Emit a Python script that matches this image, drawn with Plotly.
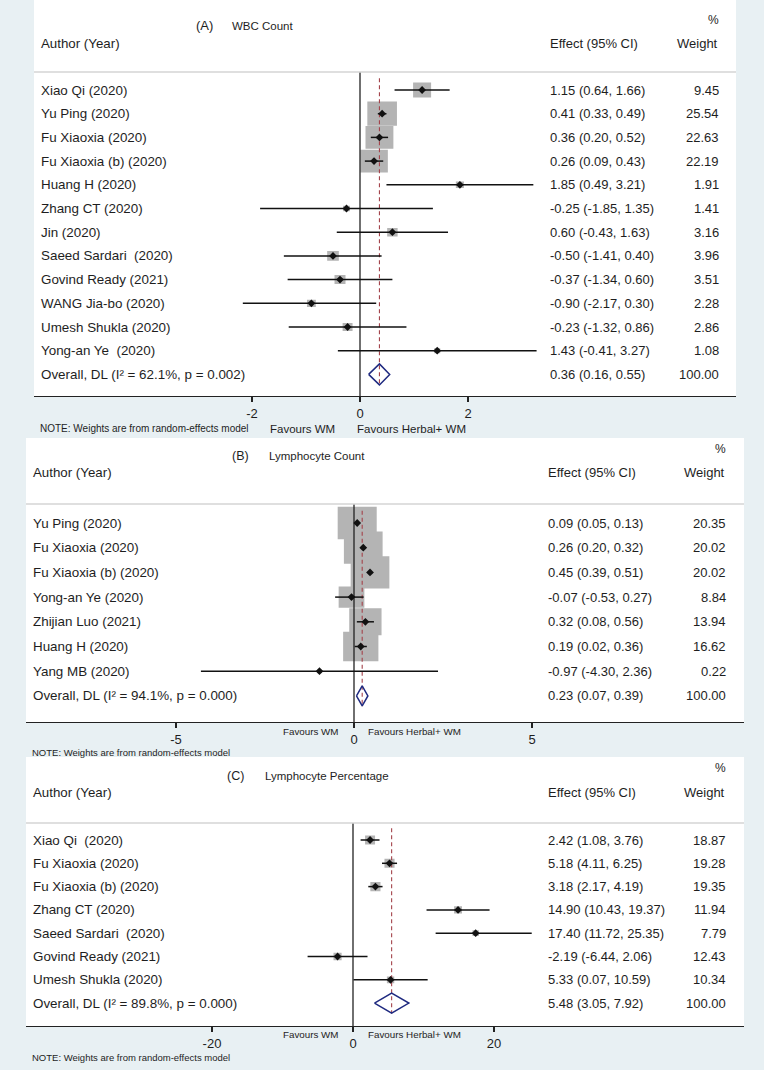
import math
import plotly.graph_objects as go

W, H = 764, 1070

# ---------------- data ----------------
# (A) WBC Count
a_authors = ["Xiao Qi (2020)", "Yu Ping (2020)", "Fu Xiaoxia (2020)", "Fu Xiaoxia (b) (2020)",
             "Huang H (2020)", "Zhang CT (2020)", "Jin (2020)", "Saeed Sardari  (2020)",
             "Govind Ready (2021)", "WANG Jia-bo (2020)", "Umesh Shukla (2020)", "Yong-an Ye  (2020)"]
a_effect = [1.15, 0.41, 0.36, 0.26, 1.85, -0.25, 0.60, -0.50, -0.37, -0.90, -0.23, 1.43]
a_lower = [0.64, 0.33, 0.20, 0.09, 0.49, -1.85, -0.43, -1.41, -1.34, -2.17, -1.32, -0.41]
a_upper = [1.66, 0.49, 0.52, 0.43, 3.21, 1.35, 1.63, 0.40, 0.60, 0.30, 0.86, 3.27]
a_weight = [9.45, 25.54, 22.63, 22.19, 1.91, 1.41, 3.16, 3.96, 3.51, 2.28, 2.86, 1.08]
a_overall = [0.36, 0.16, 0.55]
a_het = ["62.1%", "0.002"]
a_ticks = [-2, 0, 2]

# (B) Lymphocyte Count
b_authors = ["Yu Ping (2020)", "Fu Xiaoxia (2020)", "Fu Xiaoxia (b) (2020)", "Yong-an Ye (2020)",
             "Zhijian Luo (2021)", "Huang H (2020)", "Yang MB (2020)"]
b_effect = [0.09, 0.26, 0.45, -0.07, 0.32, 0.19, -0.97]
b_lower = [0.05, 0.20, 0.39, -0.53, 0.08, 0.02, -4.30]
b_upper = [0.13, 0.32, 0.51, 0.27, 0.56, 0.36, 2.36]
b_weight = [20.35, 20.02, 20.02, 8.84, 13.94, 16.62, 0.22]
b_overall = [0.23, 0.07, 0.39]
b_het = ["94.1%", "0.000"]
b_ticks = [-5, 0, 5]

# (C) Lymphocyte Percentage
c_authors = ["Xiao Qi  (2020)", "Fu Xiaoxia (2020)", "Fu Xiaoxia (b) (2020)", "Zhang CT (2020)",
             "Saeed Sardari  (2020)", "Govind Ready (2021)", "Umesh Shukla (2020)"]
c_effect = [2.42, 5.18, 3.18, 14.90, 17.40, -2.19, 5.33]
c_lower = [1.08, 4.11, 2.17, 10.43, 11.72, -6.44, 0.07]
c_upper = [3.76, 6.25, 4.19, 19.37, 25.35, 2.06, 10.59]
c_weight = [18.87, 19.28, 19.35, 11.94, 7.79, 12.43, 10.34]
c_overall = [5.48, 3.05, 7.92]
c_het = ["89.8%", "0.000"]
c_ticks = [-20, 0, 20]

titles = [("(A)", "WBC Count"), ("(B)", "Lymphocyte Count"), ("(C)", "Lymphocyte Percentage")]

# ---------------- layout geometry (pixels) ----------------
geoms = [
    dict(left=34, right=736, top=0, axis=396, zero=360, ppu=54.0, row0=90, rowpx=23.7, header=72,
         label_x=39, effect_x=548, weight_x=721, pct_y=20, head_y=43, title_y=26, tl_cx=204, tt_x=230,
         tl_size=13, tt_size=11.5, kw=5.86, kh=4.8, dh=10.5, fav_y=429, wm_r=337, hb_l=355, fav_size=11.5,
         note_x=38, note_y=429, note_size=10),
    dict(left=26, right=744, top=438, axis=722, zero=354, ppu=35.6, row0=523, rowpx=24.7, header=504,
         label_x=31, effect_x=546, weight_x=728, pct_y=449, head_y=473, title_y=456, tl_cx=240, tt_x=267,
         tl_size=12.5, tt_size=11.5, kw=8.65, kh=7.2, dh=10, fav_y=731, wm_r=341, hb_l=366, fav_size=9.8,
         note_x=30, note_y=752, note_size=9.5),
    dict(left=26, right=744, top=757, axis=1026, zero=353, ppu=7.05, row0=840, rowpx=23.3, header=823,
         label_x=31, effect_x=546, weight_x=728, pct_y=768, head_y=792, title_y=776, tl_cx=235, tt_x=263,
         tl_size=12.5, tt_size=11.5, kw=2.3, kh=2.07, dh=10, fav_y=1034, wm_r=341, hb_l=366, fav_size=9.8,
         note_x=30, note_y=1057, note_size=9.5),
]

FONT = "Liberation Sans, Arial, sans-serif"
TXT = "#1e1e1e"
BOX = "#b4b4b4"
NAVY = "#1f2a80"
RED = "#a4434b"
BG = "#e8f0f3"


def px(x):
    return x / W


def py(y):
    return 1 - y / H


fig = go.Figure()
annotations = []
shapes = []
layout_axes = {}

panels = [
    (a_authors, a_effect, a_lower, a_upper, a_weight, a_overall, a_het, a_ticks),
    (b_authors, b_effect, b_lower, b_upper, b_weight, b_overall, b_het, b_ticks),
    (c_authors, c_effect, c_lower, c_upper, c_weight, c_overall, c_het, c_ticks),
]

for k, (authors, eff, lo, hi, wt, ov, het, ticks) in enumerate(panels):
    g = geoms[k]
    sfx = "" if k == 0 else str(k + 1)
    xa, ya = "x" + sfx, "y" + sfx
    n = len(authors)
    xr = [(g["left"] - g["zero"]) / g["ppu"], (g["right"] - g["zero"]) / g["ppu"]]
    yr = [(g["axis"] - g["row0"]) / g["rowpx"], (g["top"] - g["row0"]) / g["rowpx"]]
    header_row = (g["header"] - g["row0"]) / g["rowpx"]

    layout_axes["xaxis" + sfx] = dict(
        domain=[px(g["left"]), px(g["right"])], range=xr, anchor=ya,
        showgrid=False, zeroline=False, showline=True, linecolor="#222", linewidth=1.3,
        ticks="outside", ticklen=5, tickwidth=1.2, tickcolor="#222",
        tickvals=ticks, ticktext=[str(t) for t in ticks],
        tickfont=dict(family=FONT, size=13, color=TXT), fixedrange=True)
    layout_axes["yaxis" + sfx] = dict(
        domain=[py(g["axis"]), py(g["top"])], range=yr, anchor=xa, visible=False, fixedrange=True)

    # weight boxes
    bx, by = [], []
    for i in range(n):
        hw = g["kw"] * math.sqrt(wt[i]) / 2 / g["ppu"]
        hh = g["kh"] * math.sqrt(wt[i]) / 2 / g["rowpx"]
        bx += [eff[i] - hw, eff[i] + hw, eff[i] + hw, eff[i] - hw, eff[i] - hw, None]
        by += [i - hh, i - hh, i + hh, i + hh, i - hh, None]
    fig.add_trace(go.Scatter(x=bx, y=by, xaxis=xa, yaxis=ya, mode="lines", fill="toself",
                             fillcolor=BOX, line=dict(width=0, color=BOX), hoverinfo="skip"))

    # zero line
    fig.add_trace(go.Scatter(x=[0, 0], y=[header_row, yr[0]], xaxis=xa, yaxis=ya, mode="lines",
                             line=dict(color="#222", width=1.3), hoverinfo="skip"))

    # overall dashed line
    fig.add_trace(go.Scatter(x=[ov[0], ov[0]], y=[-0.5, n + 0.45], xaxis=xa, yaxis=ya, mode="lines",
                             line=dict(color=RED, width=1.1, dash="4px,3px"), hoverinfo="skip"))

    # CI lines
    lx, ly = [], []
    for i in range(n):
        lx += [lo[i], hi[i], None]
        ly += [i, i, None]
    fig.add_trace(go.Scatter(x=lx, y=ly, xaxis=xa, yaxis=ya, mode="lines",
                             line=dict(color="#111", width=1.5), hoverinfo="skip"))

    # point estimates
    fig.add_trace(go.Scatter(x=eff, y=list(range(n)), xaxis=xa, yaxis=ya, mode="markers",
                             marker=dict(symbol="diamond", size=6, color="#111"), hoverinfo="skip"))

    # overall diamond
    dh = g["dh"] / g["rowpx"]
    fig.add_trace(go.Scatter(x=[ov[1], ov[0], ov[2], ov[0], ov[1]],
                             y=[n, n - dh, n, n + dh, n], xaxis=xa, yaxis=ya, mode="lines",
                             line=dict(color=NAVY, width=1.5), hoverinfo="skip"))

    # header separator line
    shapes.append(dict(type="line", xref="paper", yref="paper", x0=px(g["left"]), x1=px(g["right"]),
                       y0=py(g["header"]), y1=py(g["header"]), line=dict(color="#d4d4d4", width=1.5)))

    def ann(text, x, y, xanchor="left", size=13, yref="paper"):
        annotations.append(dict(text=text, x=x, y=y, xref="paper", yref=yref, xanchor=xanchor,
                                yanchor="middle", showarrow=False,
                                font=dict(family=FONT, size=size, color=TXT)))

    # header text
    ann(titles[k][0], px(g["tl_cx"]), py(g["title_y"]), "center", g["tl_size"])
    ann(titles[k][1], px(g["tt_x"]), py(g["title_y"]), "left", g["tt_size"])
    ann("Author (Year)", px(g["label_x"]), py(g["head_y"]), "left", 13.3)
    ann("Effect (95% CI)", px(g["effect_x"]), py(g["head_y"]))
    ann("Weight", px(g["weight_x"] - 1), py(g["head_y"]), "right")
    ann("%", px(g["weight_x"]), py(g["pct_y"]), "right", 12)

    # study rows
    for i in range(n):
        ann(authors[i], px(g["label_x"]), i, "left", 13.4, ya)
        ann(f"{eff[i]:.2f} ({lo[i]:.2f}, {hi[i]:.2f})", px(g["effect_x"]), i, "left", 13, ya)
        ann(f"{wt[i]:.2f}", px(g["weight_x"]), i, "right", 13, ya)
    ann(f"Overall, DL (I\u00b2 = {het[0]}, p = {het[1]})", px(g["label_x"]), n, "left", 13.4, ya)
    ann(f"{ov[0]:.2f} ({ov[1]:.2f}, {ov[2]:.2f})", px(g["effect_x"]), n, "left", 13, ya)
    ann(f"{100:.2f}", px(g["weight_x"]), n, "right", 13, ya)

    # footer
    ann("NOTE: Weights are from random-effects model", px(g["note_x"]), py(g["note_y"]), "left", g["note_size"])
    ann("Favours WM", px(g["wm_r"]), py(g["fav_y"]), "right", g["fav_size"])
    ann("Favours Herbal+ WM", px(g["hb_l"]), py(g["fav_y"]), "left", g["fav_size"])

fig.update_layout(
    width=W, height=H, margin=dict(l=0, r=0, t=0, b=0),
    paper_bgcolor=BG, plot_bgcolor="#ffffff",
    showlegend=False, annotations=annotations, shapes=shapes, **layout_axes)

fig.write_html(
    "out.html",
    config={"displayModeBar": False, "staticPlot": True},
    post_script=("document.body.style.margin='0';document.body.style.padding='0';"
                 "document.body.style.background='" + BG + "';"
                 "document.documentElement.style.overflow='hidden';"),
)
